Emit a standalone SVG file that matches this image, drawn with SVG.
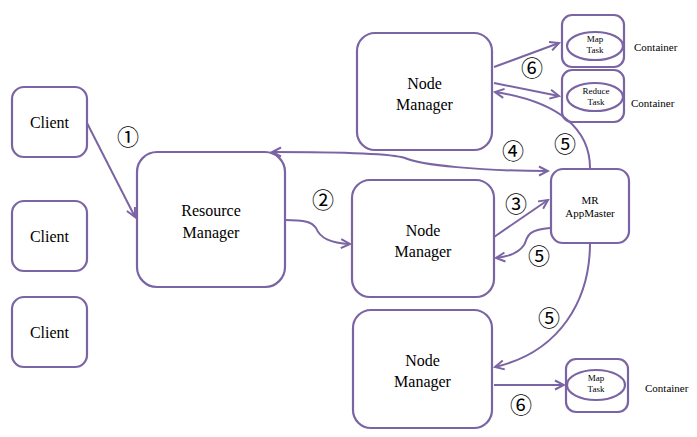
<svg xmlns="http://www.w3.org/2000/svg" width="697" height="437" viewBox="0 0 697 437">
<defs>
<marker id="ah" markerWidth="12" markerHeight="12" refX="10" refY="6" orient="auto" markerUnits="userSpaceOnUse">
<path d="M1,1.5 L10,6 L1,10.5" fill="none" stroke="#7b64a4" stroke-width="2"/>
</marker>
<marker id="ahs" markerWidth="12" markerHeight="12" refX="2" refY="6" orient="auto" markerUnits="userSpaceOnUse">
<path d="M11,1.5 L2,6 L11,10.5" fill="none" stroke="#7b64a4" stroke-width="2"/>
</marker>
</defs>
<style>
.box{fill:#fff;stroke:#7b64a4;stroke-width:2.2}
.ell{fill:#fff;stroke:#7b64a4;stroke-width:2.2}
.c{fill:none;stroke:#7b64a4;stroke-width:2}
text{font-family:"Liberation Serif","DejaVu Serif","Times New Roman",serif}
.t{fill:#000;text-anchor:middle}
.n{font-size:16px}
.s{font-size:9px}
.k{font-size:11px;fill:#000}
.num{font-family:"Noto Sans CJK SC","DejaVu Sans",sans-serif;font-size:22px;fill:#000;text-anchor:middle}
</style>
<rect width="697" height="437" fill="#fff"/>
<g id="client1"><rect class="box" x="12" y="87" width="75" height="70" rx="12"/><text class="t n" x="49.5" y="128">Client</text></g>
<g id="client2"><rect class="box" x="12" y="201" width="75" height="70" rx="12"/><text class="t n" x="49.5" y="242">Client</text></g>
<g id="client3"><rect class="box" x="12" y="297" width="75" height="70" rx="12"/><text class="t n" x="49.5" y="338">Client</text></g>
<g id="rm"><rect class="box" x="137" y="152" width="148" height="135" rx="20"/><text class="t n" x="211" y="216">Resource</text><text class="t n" x="211" y="238">Manager</text></g>
<g id="nm1"><rect class="box" x="357" y="33" width="135" height="117" rx="18"/><text class="t n" x="424.5" y="89">Node</text><text class="t n" x="424.5" y="110">Manager</text></g>
<g id="nm2"><rect class="box" x="352" y="180" width="142" height="117" rx="18"/><text class="t n" x="423" y="236">Node</text><text class="t n" x="423" y="257">Manager</text></g>
<g id="nm3"><rect class="box" x="353" y="310" width="139" height="118" rx="18"/><text class="t n" x="422.5" y="366">Node</text><text class="t n" x="422.5" y="387">Manager</text></g>
<g id="am"><rect class="box" x="551" y="169" width="78" height="74" rx="12"/><text class="t" font-size="11" x="590" y="204">MR</text><text class="t" font-size="11" x="590" y="217">AppMaster</text></g>
<g id="c1"><rect class="box" x="562" y="15" width="62" height="52" rx="10"/><ellipse class="ell" cx="595" cy="46" rx="28" ry="14"/><text class="t s" x="595" y="42">Map</text><text class="t s" x="595" y="53">Task</text><text class="k" x="634" y="51">Container</text></g>
<g id="c2"><rect class="box" x="562" y="70" width="62" height="52" rx="10"/><ellipse class="ell" cx="595" cy="97" rx="28" ry="14"/><text class="t s" x="596" y="94">Reduce</text><text class="t s" x="596" y="105">Task</text><text class="k" x="631" y="107">Container</text></g>
<g id="c3"><rect class="box" x="566" y="359" width="62" height="53" rx="10"/><ellipse class="ell" cx="596" cy="385" rx="29" ry="15"/><text class="t s" x="596" y="381">Map</text><text class="t s" x="596" y="392">Task</text><text class="k" x="645" y="392">Container</text></g>
<g id="connectors">
<path class="c" d="M87,123 L135,217" marker-end="url(#ah)"/>
<path class="c" d="M285,220 C305,220 312,222 316,228 C320,238 330,243 350,244" marker-end="url(#ah)"/>
<path class="c" d="M272,152 C320,152 390,153 405,158 C420,165 480,171 548,171" marker-start="url(#ahs)" marker-end="url(#ah)"/>
<path class="c" d="M494,237 L548,200" marker-end="url(#ah)"/>
<path class="c" d="M550,228 C525,230 528,238 524,245 C518,254 505,257 496,258" marker-end="url(#ah)"/>
<path class="c" d="M590,168 C590,130 560,102 495,92" marker-end="url(#ah)"/>
<path class="c" d="M590,243 C590,300 560,352 495,367" marker-end="url(#ah)"/>
<path class="c" d="M494,67 L559,43" marker-end="url(#ah)"/>
<path class="c" d="M494,83 L559,96" marker-end="url(#ah)"/>
<path class="c" d="M494,385 L564,385" marker-end="url(#ah)"/>
</g>
<g id="labels">
<text class="num" x="128" y="145">①</text>
<text class="num" x="323" y="208">②</text>
<text class="num" x="516" y="212">③</text>
<text class="num" x="513" y="159">④</text>
<text class="num" x="565" y="152">⑤</text>
<text class="num" x="539" y="264">⑤</text>
<text class="num" x="549" y="326">⑤</text>
<text class="num" x="532" y="76">⑥</text>
<text class="num" x="521" y="413">⑥</text>
</g>
</svg>
